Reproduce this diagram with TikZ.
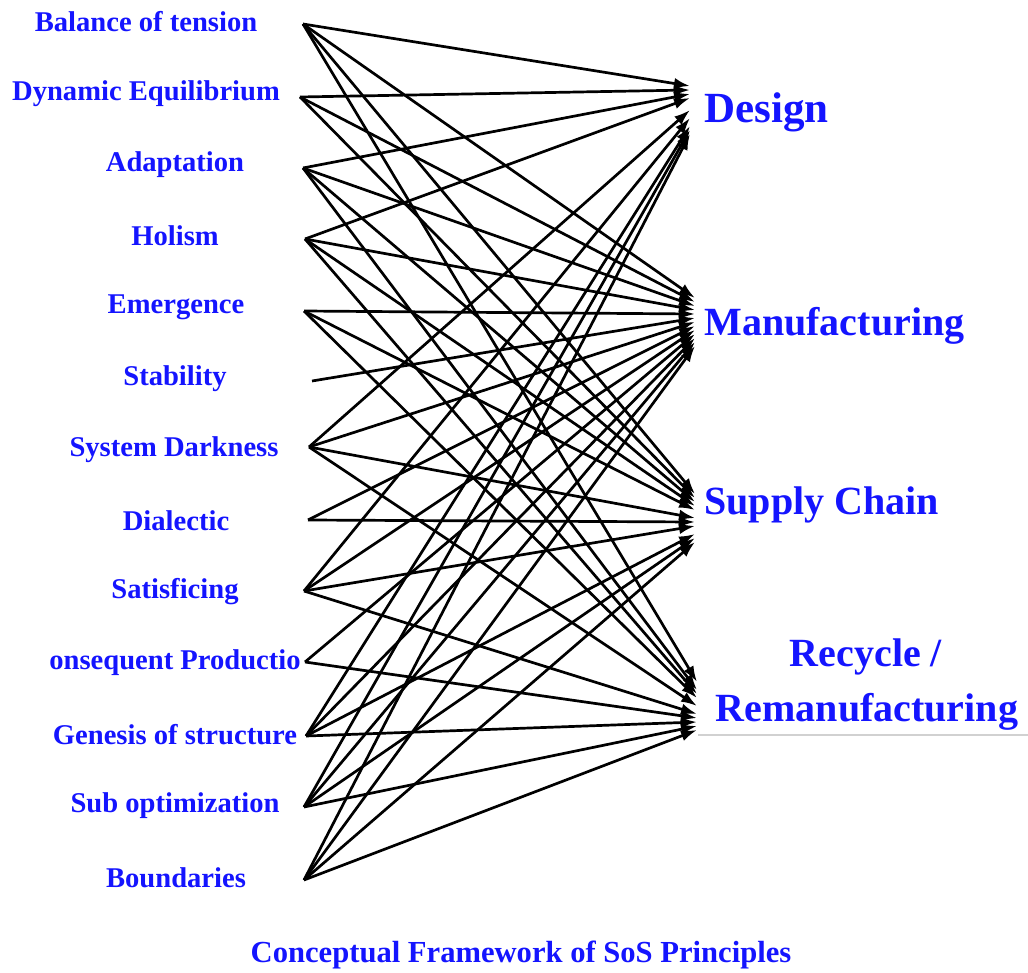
\documentclass[tikz,border=0pt]{standalone}
\usepackage{fontspec}
\setmainfont{Liberation Serif}
\usetikzlibrary{arrows.meta,calc}
\definecolor{lblue}{RGB}{20,20,255}
\tikzset{
  lab/.style={text=lblue,font=\bfseries\fontsize{14.3}{16}\selectfont,inner sep=0pt,anchor=center},
  tlab/.style={text=lblue,font=\bfseries\fontsize{20}{24}\selectfont,inner sep=0pt,anchor=west},
  conn/.style={line width=1.35pt,black,-{Latex[length=8pt,width=5.5pt]}}
}
\begin{document}
\begin{tikzpicture}[x=0.5pt,y=-0.5pt]
\useasboundingbox (0,0) rectangle (1028,973);
% left labels
\node[lab] (l1) at (146,22) {Balance of tension};
\node[lab] (l2) at (146,94) {Dynamic Equilibrium};
\node[lab] (l3) at (175,165) {Adaptation};
\node[lab] (l4) at (175,236) {Holism};
\node[lab] (l5) at (176,307) {Emergence};
\node[lab] (l6) at (175,379) {Stability};
\node[lab] (l7) at (174,450) {System Darkness};
\node[lab] (l8) at (176,521) {Dialectic};
\node[lab] (l9) at (175,592) {Satisficing};
\node[lab] (l10) at (175,663) {onsequent Productio};
\node[lab] (l11) at (175,735) {Genesis of structure};
\node[lab] (l12) at (175,806) {Sub optimization};
\node[lab] (l13) at (176,878) {Boundaries};
% right labels
\node[tlab,font=\bfseries\fontsize{21.5}{24}\selectfont] (design) at (704,112) {Design};
\node[tlab] (manu) at (704,326) {Manufacturing};
\node[tlab] (supply) at (704,505) {Supply Chain};
\node[text=lblue,font=\bfseries\fontsize{20}{24}\selectfont,inner sep=0pt] (recy) at (866,657) {Recycle /};
\node[text=lblue,font=\bfseries\fontsize{20}{24}\selectfont,inner sep=0pt] (reman) at (867,712) {Remanufacturing};
\draw[black!18,line width=0.7pt] (698,735) -- (1028,735);
% caption
\node[lab,font=\bfseries\fontsize{15.3}{18}\selectfont] (cap) at (521,955) {Conceptual Framework of SoS Principles};
% source points
\coordinate (s1) at (303,24);
\coordinate (s2) at (300,97);
\coordinate (s3) at (303,168);
\coordinate (s4) at (305,239);
\coordinate (s5) at (304,311);
\coordinate (s6) at (312,381);
\coordinate (s7) at (309,447);
\coordinate (s8) at (308,520);
\coordinate (s9) at (304,591);
\coordinate (s10) at (305,662);
\coordinate (s11) at (306,736);
\coordinate (s12) at (304,807);
\coordinate (s13) at (304,880);
% target tips
\coordinate (tD) at (690,110);
\coordinate (tM) at (695,322);
\coordinate (tS) at (695,518);
\coordinate (tR) at (697,706);
\foreach \i/\t in {1/D,1/M,1/S,1/R,
                   2/D,2/M,2/S,
                   3/D,3/M,3/S,3/R,
                   4/D,4/M,4/S,4/R,
                   5/M,5/S,5/R,
                   6/M,
                   7/D,7/M,7/S,7/R,
                   8/M,8/S,
                   9/D,9/M,9/S,9/R,
                   10/M,10/R,
                   11/D,11/M,11/S,11/R,
                   12/D,12/M,12/S,12/R,
                   13/D,13/M,13/S,13/R}
  {\draw[conn] (s\i) -- ([yshift={(7-\i)*2pt}]t\t);}
\end{tikzpicture}
\end{document}
